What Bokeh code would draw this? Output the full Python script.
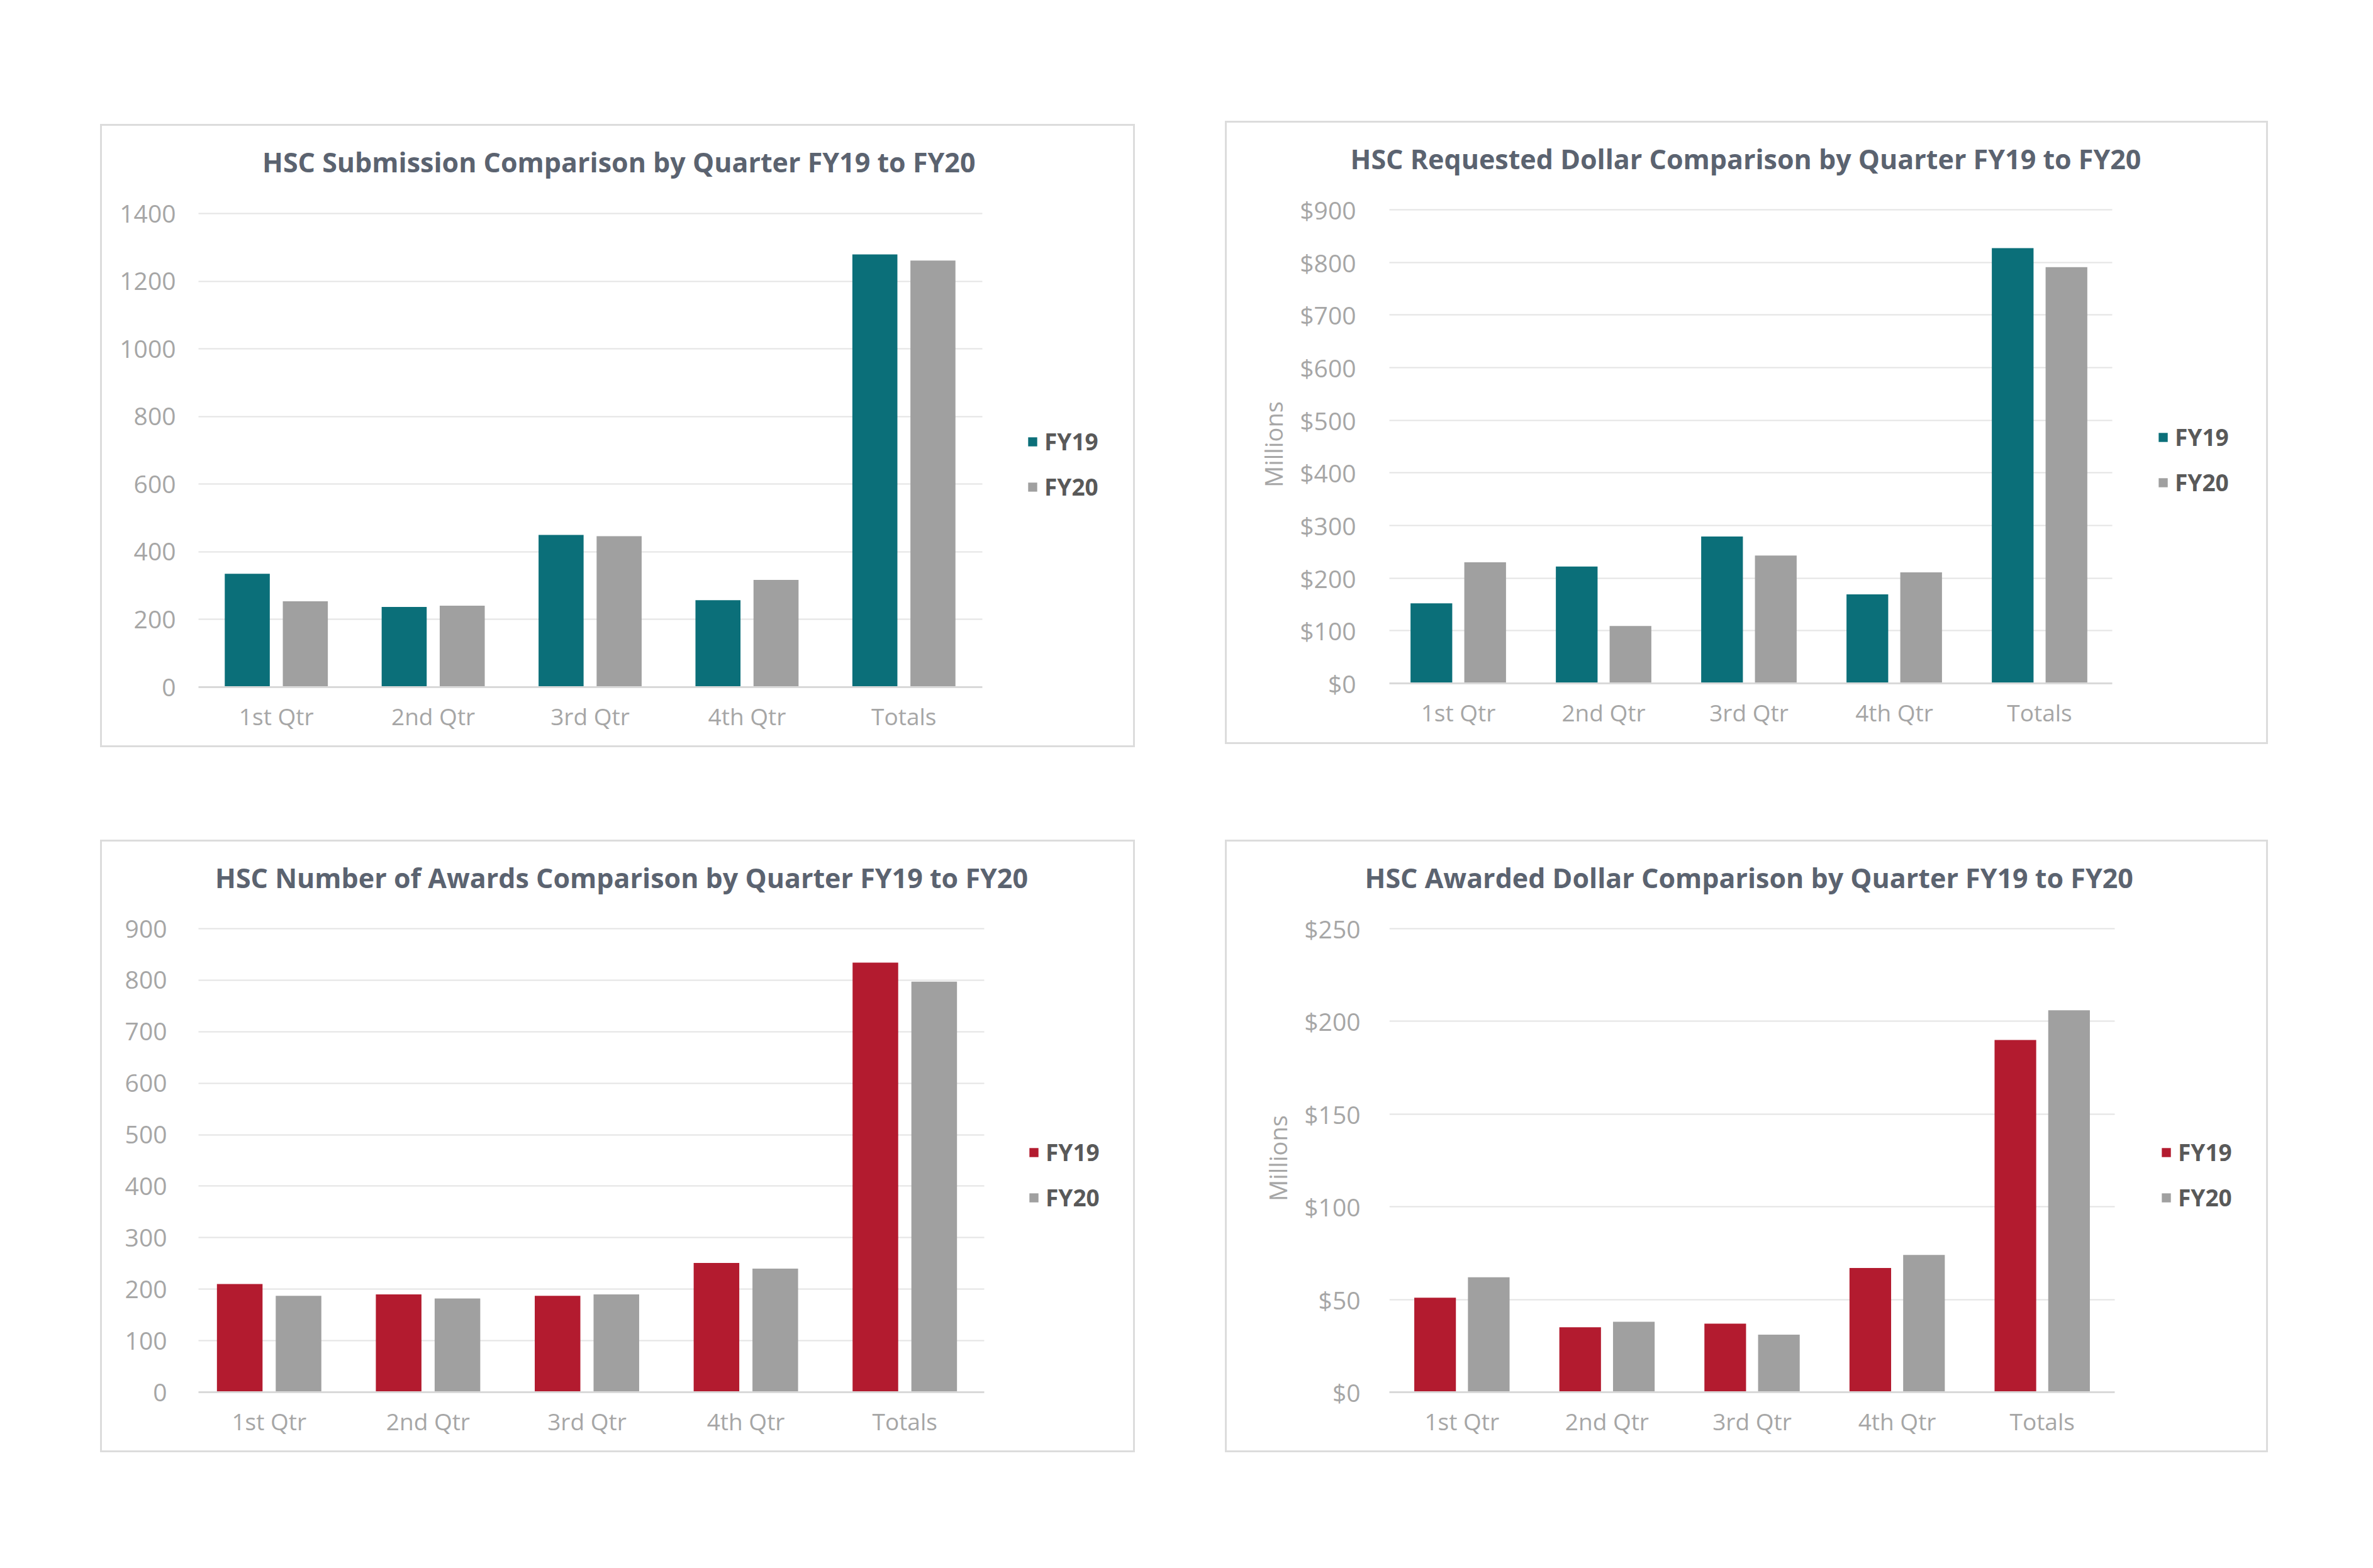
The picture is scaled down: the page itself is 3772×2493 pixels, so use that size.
from bokeh.plotting import figure
from bokeh.models import (ColumnDataSource, Range1d, FixedTicker, Legend, LegendItem,
                          NumeralTickFormatter, Title, Spacer)
from bokeh.layouts import row, column
from bokeh.transform import dodge
from bokeh.embed import file_html
from bokeh.resources import INLINE

# ---------------- data ----------------
quarters = ["1st Qtr", "2nd Qtr", "3rd Qtr", "4th Qtr", "Totals"]
series_names = ["FY19", "FY20"]

submissions_fy19 = [335, 237, 450, 257, 1279]
submissions_fy20 = [254, 241, 446, 317, 1261]

requested_fy19 = [152, 222, 279, 169, 827]
requested_fy20 = [230, 109, 243, 211, 791]

awards_fy19 = [210, 190, 187, 251, 834]
awards_fy20 = [187, 182, 190, 240, 797]

awarded_fy19 = [51, 35, 37, 67, 190]
awarded_fy20 = [62, 38, 31, 74, 206]

submission_ticks = [0, 200, 400, 600, 800, 1000, 1200, 1400]
requested_ticks = [0, 100, 200, 300, 400, 500, 600, 700, 800, 900]
awards_ticks = [0, 100, 200, 300, 400, 500, 600, 700, 800, 900]
awarded_ticks = [0, 50, 100, 150, 200, 250]

titles = [
    "HSC Submission Comparison by Quarter FY19 to FY20",
    "HSC Requested Dollar Comparison by Quarter FY19 to FY20",
    "HSC Number of Awards Comparison by Quarter FY19 to FY20",
    "HSC Awarded Dollar Comparison by Quarter FY19 to FY20",
]
unit_label = "Millions"

# ---------------- styles ----------------
TEAL = "#0b6f79"
RED = "#b31b2f"
GRAY = "#a0a0a0"
TITLE_COLOR = "#5b6370"
TICK_COLOR = "#a6a6a6"
LEGEND_COLOR = "#595959"
FONT = "Open Sans"

# category centres on a numeric axis (index + 0.5)
cat_pos = [i + 0.5 for i in range(len(quarters))]
cat_labels = {x: q for x, q in zip(cat_pos, quarters)}

FRAME_TOP = 100   # frame extends above the top gridline, title sits above it
UNIT_LEN = 130    # approx. rendered length of the rotated unit label


def make_panel(title, fy19, fy20, c19, ticks, dollar, millions, w, h,
               fl_common, fl, fr, ft, fb, title_center, title_w, leg_x, leg_y20, tick_gap):
    ncat = len(quarters)
    gpx = (fr - fl) / ncat                    # pixels per category
    frame_r = w - 4
    x_start = (fl_common - fl) / gpx
    x_end = x_start + (frame_r - fl_common) / gpx
    ymax = ticks[-1]
    y_end = ymax + (ft - FRAME_TOP) * ymax / (fb - ft)

    src = ColumnDataSource(dict(x=cat_pos, fy19=fy19, fy20=fy20))
    p = figure(width=w, height=h, x_range=Range1d(x_start, x_end),
               y_range=Range1d(ticks[0], y_end), output_backend="svg",
               toolbar_location=None, min_border_left=fl_common, min_border_right=w - frame_r,
               min_border_top=FRAME_TOP, min_border_bottom=h - fb)
    p.background_fill_color = None
    p.border_fill_color = None
    p.outline_line_color = None
    p.styles = {"outline": "3px solid #dcdcdc", "outline-offset": "-3px"}

    r1 = p.vbar(x=dodge("x", -0.185), top="fy19", width=0.287, bottom=0,
                source=src, fill_color=c19, line_color=None)
    r2 = p.vbar(x=dodge("x", 0.185), top="fy20", width=0.287, bottom=0,
                source=src, fill_color=GRAY, line_color=None)

    # title
    p.title = Title(text=title, align="left", offset=title_center - fl_common - title_w / 2,
                    standoff=22, text_font=FONT, text_font_size="43px",
                    text_font_style="bold", text_color=TITLE_COLOR)

    # axes
    p.yaxis.ticker = FixedTicker(ticks=ticks)
    if dollar:
        p.yaxis.formatter = NumeralTickFormatter(format="$0")
    p.yaxis.axis_line_color = None
    p.yaxis.major_tick_line_color = None
    p.yaxis.minor_tick_line_color = None
    p.yaxis.major_label_text_font = FONT
    p.yaxis.major_label_text_font_size = "39px"
    p.yaxis.major_label_text_color = TICK_COLOR
    p.yaxis.major_label_standoff = tick_gap
    if millions:
        # rotated unit label, centred on the 0..max part of the axis
        mid = (ft + fb) / 2
        p.add_layout(Title(text=unit_label, align="left",
                           offset=(fb - mid) - UNIT_LEN / 2,
                           standoff=27, text_font=FONT, text_font_size="38px",
                           text_font_style="normal", text_color=TICK_COLOR), "left")

    p.xaxis.ticker = FixedTicker(ticks=cat_pos)
    p.xaxis.major_label_overrides = cat_labels
    p.xaxis.bounds = (0, ncat)
    p.xaxis.axis_line_color = "#d9d9d9"
    p.xaxis.axis_line_width = 3
    p.xaxis.major_tick_line_color = None
    p.xaxis.minor_tick_line_color = None
    p.xaxis.major_label_text_font = FONT
    p.xaxis.major_label_text_font_size = "37px"
    p.xaxis.major_label_text_color = TICK_COLOR
    p.xaxis.major_label_standoff = 14

    p.xgrid.grid_line_color = None
    p.ygrid.grid_line_color = "#e4e4e4"
    p.ygrid.grid_line_width = 2
    p.ygrid.cross_bounds = (0, ncat)
    p.ygrid.bounds = (ticks[0], ymax)

    legend = Legend(items=[LegendItem(label=series_names[0], renderers=[r1]),
                           LegendItem(label=series_names[1], renderers=[r2])],
                    location=(leg_x - fl_common, fb - (leg_y20 + 23)),
                    orientation="vertical", padding=0, margin=0, spacing=21,
                    glyph_width=18, glyph_height=18, label_height=46, label_standoff=10,
                    label_text_font=FONT, label_text_font_size="37px",
                    label_text_font_style="bold", label_text_color=LEGEND_COLOR,
                    border_line_color=None, background_fill_alpha=0)
    p.add_layout(legend)
    return p


p1 = make_panel(titles[0], submissions_fy19, submissions_fy20, TEAL, submission_ticks, False, False,
                1645, 991, 156, 155, 1402, 142, 895, 821, 1127, 1473, 579, 30)
p3 = make_panel(titles[2], awards_fy19, awards_fy20, RED, awards_ticks, False, False,
                1645, 974, 156, 142, 1405, 141, 878, 824, 1283, 1475, 571, 44)
p2 = make_panel(titles[1], requested_fy19, requested_fy20, TEAL, requested_ticks, True, True,
                1658, 991, 261, 255, 1410, 141, 894, 825, 1252, 1482, 577, 47)
p4 = make_panel(titles[3], awarded_fy19, awarded_fy20, RED, awarded_ticks, True, True,
                1658, 974, 261, 261, 1414, 141, 878, 831, 1218, 1487, 571, 40)

left_col = column(Spacer(width=1, height=197), p1, Spacer(width=1, height=147), p3)
right_col = column(Spacer(width=1, height=192), p2, Spacer(width=1, height=152), p4)
root = row(Spacer(width=159, height=1), left_col, Spacer(width=143, height=1), right_col)

open("out.html", "w").write(file_html(root, INLINE))
